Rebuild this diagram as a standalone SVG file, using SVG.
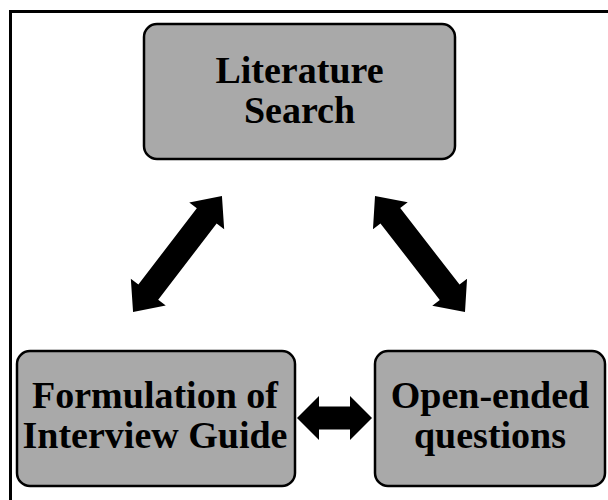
<svg xmlns="http://www.w3.org/2000/svg" width="608" height="500" viewBox="0 0 608 500">
<style>
.box{fill:#a9a9a9;stroke:#000;stroke-width:2.5}
.lbl{font-family:"Liberation Serif","Times New Roman",serif;font-weight:bold;font-size:38px;fill:#000;text-anchor:middle}
.arr{fill:#000}
</style>
<rect width="608" height="500" fill="#fff"/>
<path d="M10.5 500 V11.5 H608" fill="none" stroke="#000" stroke-width="3"/>
<g id="connectors">
<polygon class="arr" transform="translate(177.5,254) rotate(-52.5)" points="-73,0 -48,-22 -48,-12.5 48,-12.5 48,-22 73,0 48,22 48,12.5 -48,12.5 -48,22"/>
<polygon class="arr" transform="translate(420,254) rotate(52.2)" points="-73.4,0 -48.4,-22 -48.4,-12.5 48.4,-12.5 48.4,-22 73.4,0 48.4,22 48.4,12.5 -48.4,12.5 -48.4,22"/>
<polygon class="arr" points="297,418 319,396 319,406.5 350,406.5 350,396 372,418 350,440 350,429.5 319,429.5 319,440"/>
</g>
<g id="literature-search">
<rect class="box" x="144" y="24" width="311" height="135" rx="13"/>
<text class="lbl" x="299.5" y="83">Literature</text>
<text class="lbl" x="299.5" y="123">Search</text>
</g>
<g id="formulation">
<rect class="box" x="17" y="351" width="278" height="135" rx="13"/>
<text class="lbl" x="155" y="408">Formulation of</text>
<text class="lbl" x="155" y="448">Interview Guide</text>
</g>
<g id="open-ended">
<rect class="box" x="375" y="351" width="230" height="135" rx="13"/>
<text class="lbl" x="490" y="408">Open-ended</text>
<text class="lbl" x="490" y="448">questions</text>
</g>
</svg>
